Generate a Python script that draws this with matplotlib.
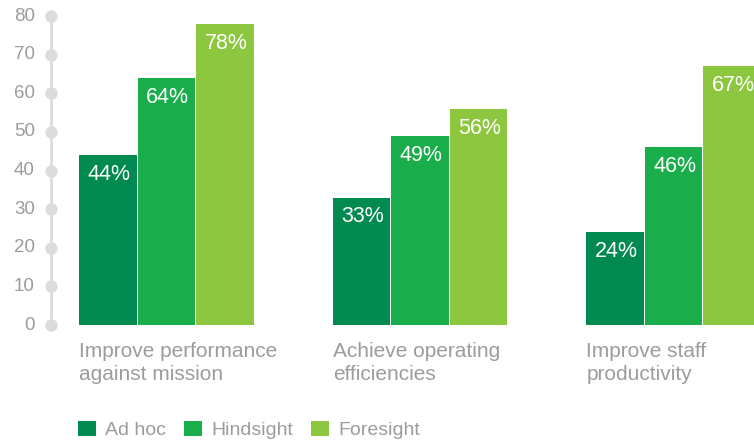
import numpy as np
import matplotlib.pyplot as plt

categories = ['Improve performance\nagainst mission', 'Achieve operating\nefficiencies', 'Improve staff\nproductivity']
series = ['Ad hoc', 'Hindsight', 'Foresight']
ad_hoc = [44, 33, 24]
hindsight = [64, 49, 46]
foresight = [78, 56, 67]
yticks = [0, 10, 20, 30, 40, 50, 60, 70, 80]

colors = ['#008a50', '#1aad4b', '#8dc63f']
grey = '#9c9c9c'
plt.rcParams['font.family'] = ['Liberation Sans', 'DejaVu Sans']

fig = plt.figure(figsize=(7.54, 4.43), dpi=100)
ax = fig.add_axes([50/754, 118/443, 1 - 50/754, 309/443])

x = np.arange(len(categories))
pitch = 0.2308
width = 0.226
x0 = -0.4556
for i, (name, vals) in enumerate(zip(series, [ad_hoc, hindsight, foresight])):
    pos = x + (i - 1) * pitch
    ax.bar(pos, vals, width=width, color=colors[i], label=name, linewidth=0)
    for p, v in zip(pos, vals):
        ax.text(p + 0.004, v - 5.0, f'{v}%', color='white', fontsize=15.5, ha='center', va='center')

ax.set_xlim(-0.4596, 2.3176)
ax.set_ylim(0, 80)
for s in ax.spines.values():
    s.set_visible(False)
ax.set_xticks([])
ax.set_yticks([])

# custom axis: light line with dots at each tick
ax.plot([x0, x0], [0, 80], color='#dcdcdc', lw=2, clip_on=False, zorder=0)
ax.scatter([x0] * len(yticks), yticks, s=80, color='#dcdcdc', clip_on=False, zorder=1,
           linewidths=0)
for t in yticks:
    ax.text(-0.5195, t, str(t), color=grey, fontsize=13.5, ha='right', va='center')

# category labels under groups
for xi, c in zip(x, categories):
    ax.text(xi - pitch - width / 2, -4.3, c, color=grey, fontsize=15, ha='left', va='top',
            linespacing=1.3)

leg = fig.legend(loc='center left', bbox_to_anchor=(78/754, 1 - 430/443), ncol=3, frameon=False,
                 handlelength=0.93, handleheight=0.87, handletextpad=0.45, columnspacing=0.95,
                 prop={'size': 14}, borderaxespad=0, borderpad=0)
for t in leg.get_texts():
    t.set_color(grey)

fig.savefig('out.png', dpi=100)
